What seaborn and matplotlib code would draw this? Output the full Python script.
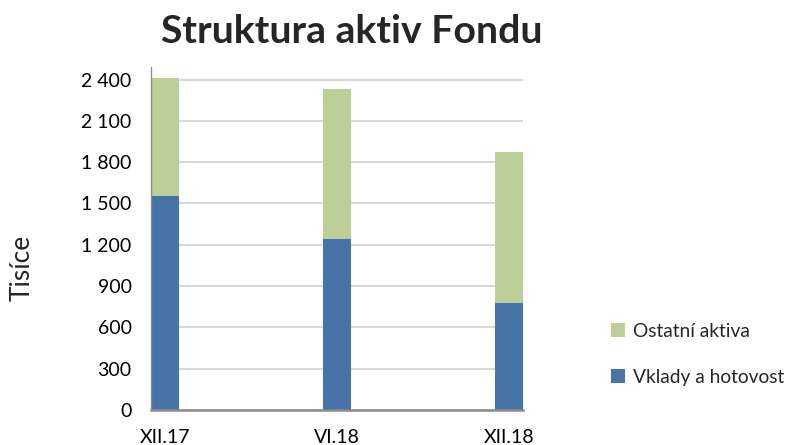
import matplotlib
matplotlib.use("Agg")
import matplotlib.pyplot as plt
import seaborn as sns
import pandas as pd
from matplotlib.patches import Patch
from matplotlib.ticker import FuncFormatter

categories = ["XII.17", "VI.18", "XII.18"]
vklady = [1551, 1244, 776]
ostatni = [861, 1091, 1095]
series_names = ["Ostatní aktiva", "Vklady a hotovost"]
yticks = [0, 300, 600, 900, 1200, 1500, 1800, 2100, 2400]
title = "Struktura aktiv Fondu"
ylabel = "Tisíce"

blue = "#4673A8"
green = "#BBCF97"

sns.set_theme(style="white")
plt.rcParams['font.family'] = ['Lato', 'DejaVu Sans']

totals = [v + o for v, o in zip(vklady, ostatni)]
df = pd.DataFrame({"cat": categories, "vklady": vklady, "total": totals})

fig = plt.figure(figsize=(7.9, 4.45), dpi=100)
ax = fig.add_axes([0.1911, 0.0787, 0.4709, 0.7703])

ax.yaxis.grid(True, color="#D9D9D9", linewidth=1.5)
ax.set_axisbelow(True)

sns.barplot(data=df, x="cat", y="total", color=green, width=0.163,
            saturation=1, ax=ax, linewidth=0)
sns.barplot(data=df, x="cat", y="vklady", color=blue, width=0.163,
            saturation=1, ax=ax, linewidth=0)

ax.set_xlim(-0.0815, 2.0815)
ax.set_ylim(0, 2490)
ax.set_yticks(yticks)
ax.yaxis.set_major_formatter(FuncFormatter(lambda v, p: f"{int(v):,}".replace(",", " ")))

for s in ["top", "right"]:
    ax.spines[s].set_visible(False)
ax.spines["left"].set_color("#8C8C8C")
ax.spines["left"].set_linewidth(1.0)
ax.spines["bottom"].set_color("#8C8C8C")
ax.spines["bottom"].set_linewidth(1.8)

ax.tick_params(axis="y", labelsize=14, length=0, pad=14, colors="black")
ax.tick_params(axis="x", labelsize=14, length=0, pad=14, colors="black")
ax.set_xlabel("")
ax.set_ylabel("")

fig.text(0.028, 0.398, ylabel, rotation=90, fontsize=19, ha="center", va="center")
fig.text(0.445, 0.93, title, fontsize=28.3, fontweight="bold", ha="center", va="center")

handles = [Patch(facecolor=green, edgecolor="none"), Patch(facecolor=blue, edgecolor="none")]
fig.legend(handles, series_names, loc="center left", bbox_to_anchor=(0.774, 0.204),
           frameon=False, fontsize=13.8, handlelength=0.7, handleheight=0.7,
           handletextpad=0.4, labelspacing=1.5, borderpad=0, borderaxespad=0)

fig.savefig("out.png", dpi=100)
